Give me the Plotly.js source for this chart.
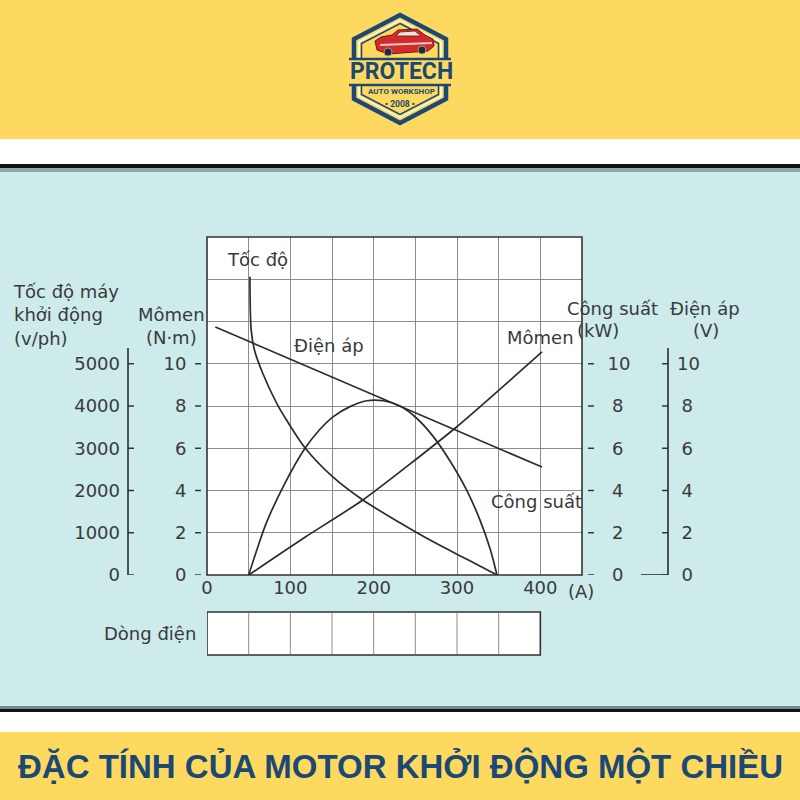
<!DOCTYPE html>
<html><head><meta charset="utf-8">
<script src="https://cdn.plot.ly/plotly-3.0.1.min.js"></script>
<style>html,body{margin:0;padding:0;background:#fff}#chart{width:800px;height:800px}</style>
</head><body><div id="chart"></div>
<script>
// ---------- data ----------
const speedCurrent = [51.5, 53, 57, 67, 84, 96, 118, 151, 187, 232, 271, 312, 348];
const speedRpm     = [7060, 5800, 5320, 4770, 4050, 3650, 3000, 2320, 1775, 1230, 790, 370, 0];
const powerCurrent = [50, 61.6, 71.6, 91.6, 117.6, 135.6, 151.6, 171.6, 191.6, 211.6, 231.6, 251.6, 271.6, 291.6, 311.6, 327.6, 339.6, 348];
const powerKw      = [0, 1.4, 2.5, 4.2, 6.0, 6.9, 7.5, 7.97, 8.25, 8.25, 8.0, 7.42, 6.55, 5.4, 4.02, 2.6, 1.26, 0];
const torqueCurrent = [50, 118, 187, 298, 402];
const torqueNm      = [0, 1.8, 3.55, 6.96, 10.56];
const voltageCurrent = [10, 402];
const voltageV       = [11.74, 5.11];
const currentTicks = [0, 100, 200, 300, 400];
const currentCells = [50, 100, 150, 200, 250, 300, 350];
const speedTicks = [0, 1000, 2000, 3000, 4000, 5000];
const scaleTicks = [0, 2, 4, 6, 8, 10];

// ---------- helpers ----------
const PX = v => v / 800;
const PY = v => 1 - v / 800;
const INK = '#2c2c2c';
const TXT = '#3a3a3a';
const NAVY = '#1b4874';
const YEL = '#FDDA5F';
const F = {family: 'DejaVu Sans', size: 18, color: TXT};

const line = {color: INK, width: 1.7};
const traces = [
  {x: speedCurrent, y: speedRpm, yaxis: 'y2', mode: 'lines', line: Object.assign({shape: 'spline', smoothing: 0.8}, line), name: 'Tốc độ'},
  {x: powerCurrent, y: powerKw, yaxis: 'y3', mode: 'lines', line: Object.assign({shape: 'spline', smoothing: 1}, line), name: 'Công suất'},
  {x: torqueCurrent, y: torqueNm, yaxis: 'y', mode: 'lines', line: Object.assign({shape: 'spline', smoothing: 0.6}, line), name: 'Mômen'},
  {x: voltageCurrent, y: voltageV, yaxis: 'y4', mode: 'lines', line: line, name: 'Điện áp'}
];

const shapes = [];
const rect = (y0, y1, color) => ({type: 'rect', xref: 'paper', yref: 'paper', x0: 0, x1: 1, y0: PY(y1), y1: PY(y0), fillcolor: color, line: {width: 0}, layer: 'below'});
shapes.push(rect(0, 139, YEL));
shapes.push(rect(166, 710, '#CCEBEA'));
shapes.push(rect(164, 168, '#111'));
shapes.push(rect(168, 172, '#8fa9ab'));
shapes.push(rect(706, 709, '#6f8c8c'));
shapes.push(rect(709, 712, '#111'));
shapes.push(rect(732, 800, YEL));
// plot area
shapes.push({type: 'rect', xref: 'x domain', yref: 'y domain', x0: 0, x1: 1, y0: 0, y1: 1, fillcolor: '#fff', line: {width: 0}, layer: 'below'});
shapes.push({type: 'rect', xref: 'x domain', yref: 'y domain', x0: 0, x1: 1, y0: 0, y1: 1, line: {color: '#333', width: 1.6}, layer: 'above'});
// axis lines and tick dashes
const tk = {color: INK, width: 1.4};
shapes.push({type: 'line', xref: 'paper', yref: 'y2', x0: PX(128), x1: PX(128), y0: 0, y1: 5370, line: {color: INK, width: 1.6}});
speedTicks.forEach(v => shapes.push({type: 'line', xref: 'paper', yref: 'y2', x0: PX(128), x1: PX(134), y0: v, y1: v, line: tk}));
shapes.push({type: 'line', xref: 'paper', yref: 'y4', x0: PX(668), x1: PX(668), y0: 0, y1: 10.75, line: {color: INK, width: 1.6}});
shapes.push({type: 'line', xref: 'paper', yref: 'y4', x0: PX(641), x1: PX(668), y0: 0, y1: 0, line: {color: INK, width: 1.6}});
scaleTicks.forEach(v => shapes.push({type: 'line', xref: 'paper', yref: 'y4', x0: PX(662), x1: PX(668), y0: v, y1: v, line: tk}));
scaleTicks.forEach(v => shapes.push({type: 'line', xref: 'paper', yref: 'y', x0: PX(195), x1: PX(201), y0: v, y1: v, line: tk}));
scaleTicks.forEach(v => shapes.push({type: 'line', xref: 'paper', yref: 'y3', x0: PX(588), x1: PX(594), y0: v, y1: v, line: tk}));
// current box
shapes.push({type: 'rect', xref: 'x', yref: 'paper', x0: 0, x1: 400, y0: PY(655), y1: PY(612), fillcolor: '#fff', line: {color: '#333', width: 1.6}});
currentCells.forEach(c => shapes.push({type: 'line', xref: 'x', yref: 'paper', x0: c, x1: c, y0: PY(654), y1: PY(613), line: {color: '#8c8c8c', width: 1}}));

// logo
const hex = (cx, cy, w, h, s) => `M ${PX(cx)} ${PY(cy - h)} L ${PX(cx + w)} ${PY(cy - s)} L ${PX(cx + w)} ${PY(cy + s)} L ${PX(cx)} ${PY(cy + h)} L ${PX(cx - w)} ${PY(cy + s)} L ${PX(cx - w)} ${PY(cy - s)} Z`;
shapes.push({type: 'path', xref: 'paper', yref: 'paper', path: hex(400, 69, 46, 54, 30), fillcolor: YEL, line: {color: NAVY, width: 4.5}});
shapes.push({type: 'path', xref: 'paper', yref: 'paper', path: hex(400, 69, 41, 48.5, 27), line: {color: '#ffffff', width: 1.3}});
shapes.push({type: 'path', xref: 'paper', yref: 'paper', path: hex(400, 69, 38.5, 45.5, 25.5), line: {color: NAVY, width: 1.5}});
// band
shapes.push({type: 'rect', xref: 'paper', yref: 'paper', x0: PX(349), x1: PX(451), y0: PY(85), y1: PY(59), fillcolor: YEL, line: {width: 0}});
shapes.push({type: 'line', xref: 'paper', yref: 'paper', x0: PX(349), x1: PX(451), y0: PY(59), y1: PY(59), line: {color: NAVY, width: 2.5}});
shapes.push({type: 'line', xref: 'paper', yref: 'paper', x0: PX(349), x1: PX(451), y0: PY(85), y1: PY(85), line: {color: NAVY, width: 2.5}});
// car
const pth = pts => 'M ' + pts.map(p => `${PX(p[0])} ${PY(p[1])}`).join(' L ') + ' Z';
shapes.push({type: 'path', xref: 'paper', yref: 'paper', path: pth([[375, 41], [381, 37], [392, 35], [398, 30], [417, 29], [425, 35], [433, 39], [434, 46], [428, 51], [388, 54], [377, 50]]), fillcolor: '#d32b2b', line: {color: '#7a1414', width: 1}});
shapes.push({type: 'path', xref: 'paper', yref: 'paper', path: pth([[396, 36], [400, 32], [415, 31], [421, 36]]), fillcolor: '#e8e4e0', line: {color: '#7a1414', width: 0.8}});
shapes.push({type: 'path', xref: 'paper', yref: 'paper', path: pth([[380, 44], [432, 42], [432, 44], [380, 46]]), fillcolor: '#f0c9c9', line: {width: 0}});
[[388, 52], [422, 50]].forEach(w => shapes.push({type: 'circle', xref: 'paper', yref: 'paper', x0: PX(w[0] - 4), x1: PX(w[0] + 4), y0: PY(w[1] + 4), y1: PY(w[1] - 4), fillcolor: '#2a2a2a', line: {color: '#999', width: 1}}));

const ann = (text, x, y, opt) => Object.assign({text: text, xref: 'paper', yref: 'paper', x: PX(x), y: PY(y), showarrow: false, font: F, xanchor: 'center', yanchor: 'middle'}, opt || {});
const annotations = [
  ann('Tốc độ máy<br>khởi động<br>(v/ph)', 11, 315, {xanchor: 'left', align: 'left'}),
  ann('Mômen<br>(N·m)', 171, 326),
  ann('Công suất', 612, 308),
  ann('(kW)', 598, 330),
  ann('Điện áp', 705, 308),
  ann('(V)', 706, 330),
  ann('Tốc độ', 257, 260),
  ann('Điện áp', 329, 345),
  ann('Mômen', 540, 337),
  ann('Công suất', 536, 502),
  ann('(A)', 581, 591),
  ann('Dòng điện', 150, 633),
  ann('ĐẶC TÍNH CỦA MOTOR KHỞI ĐỘNG MỘT CHIỀU', 400, 766, {font: {family: 'Liberation Sans', size: 33, color: NAVY, weight: 'bold'}}),
  ann('PROTECH', 401, 72, {font: {family: 'Roboto', size: 23, color: NAVY, weight: 'bold'}}),
  ann('AUTO WORKSHOP', 401, 91, {font: {family: 'Roboto', size: 8, color: NAVY, weight: 'bold'}}),
  ann('• 2008 •', 400, 104, {font: {family: 'Roboto', size: 8.5, color: NAVY, weight: 'bold'}})
];

const tickF = {family: 'DejaVu Sans', size: 18, color: TXT};
const single = v => v < 10 ? '\u2005' + v : String(v);
const layout = {
  width: 800, height: 800,
  margin: {l: 0, r: 0, t: 0, b: 0},
  paper_bgcolor: '#ffffff', plot_bgcolor: 'rgba(0,0,0,0)',
  showlegend: false,
  xaxis: {domain: [PX(207), PX(582)], range: [0, 450], anchor: 'y', tickmode: 'array', tickvals: currentTicks, ticktext: currentTicks.map(String),
          ticks: '', showline: false, zeroline: false, showgrid: true, gridcolor: '#8c8c8c', gridwidth: 1,
          minor: {tick0: 0, dtick: 50, showgrid: true, gridcolor: '#8c8c8c', gridwidth: 1, ticks: ''}, tickfont: tickF, fixedrange: true},
  yaxis: {domain: [PY(575), PY(237)], range: [0, 16], anchor: 'free', position: PX(201), side: 'left', tickmode: 'array', tickvals: scaleTicks,
          ticks: 'outside', ticklen: 5, tickcolor: 'rgba(0,0,0,0)', showline: false, zeroline: false, showgrid: true, gridcolor: '#8c8c8c',
          minor: {tick0: 0, dtick: 2, showgrid: true, gridcolor: '#8c8c8c', ticks: ''}, tickfont: tickF, ticklabelstandoff: 6, fixedrange: true},
  yaxis2: {overlaying: 'y', anchor: 'free', position: PX(128), side: 'left', range: [0, 8000], tickmode: 'array', tickvals: speedTicks,
           ticks: '', showline: false, zeroline: false, showgrid: false, tickfont: tickF, ticklabelstandoff: 8, fixedrange: true},
  yaxis3: {overlaying: 'y', anchor: 'free', position: PX(588), side: 'right', range: [0, 16], tickmode: 'array', tickvals: scaleTicks,
           ticktext: scaleTicks.map(single),
           ticks: 'outside', ticklen: 5, tickcolor: 'rgba(0,0,0,0)', showline: false, zeroline: false, showgrid: false, tickfont: tickF, ticklabelstandoff: 10, fixedrange: true},
  yaxis4: {overlaying: 'y', anchor: 'free', position: PX(668), side: 'right', range: [0, 16], tickmode: 'array', tickvals: scaleTicks,
           ticktext: scaleTicks.map(single),
           ticks: '', showline: false, zeroline: false, showgrid: false, tickfont: tickF, ticklabelstandoff: 8, fixedrange: true},
  shapes: shapes,
  annotations: annotations
};
Plotly.newPlot('chart', traces, layout, {staticPlot: true, displayModeBar: false});
</script>
</body></html>
